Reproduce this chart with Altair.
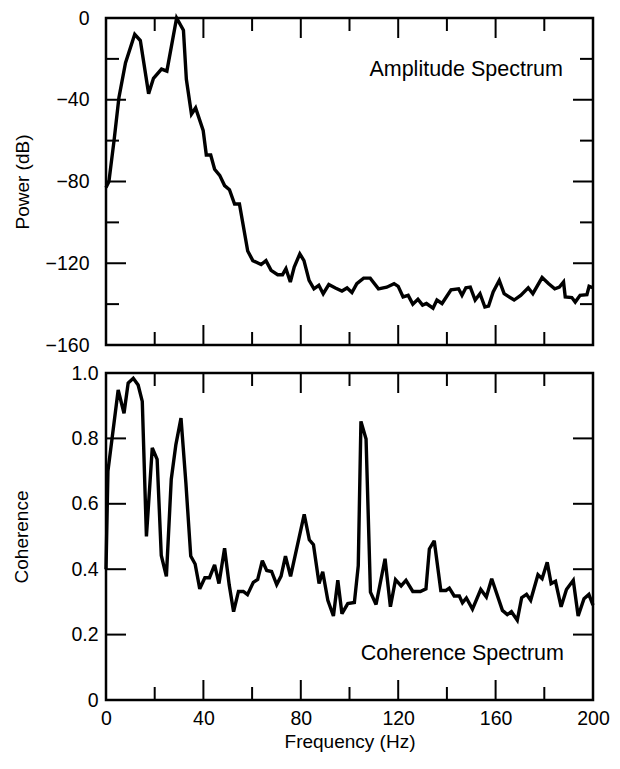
import altair as alt
import pandas as pd

# ---------------- data ----------------
freq_power = [0, 1.2, 3.3, 5.3, 8, 11.8, 14.1, 17.5, 19.5, 22.8, 25, 29, 31.8, 33, 35.1, 36.8,
              39.9, 41.2, 43, 44.6, 46.7, 48.7, 50.7, 52.8, 54.8, 58.2, 60.3, 63.7, 65.7, 67.8,
              70.5, 72.5, 73.9, 75.7, 77.3, 79.6, 81.3, 83.4, 85.4, 87.4, 89.2, 91.5, 94.2, 96.9,
              99, 101, 103, 105.8, 108.5, 111.9, 115.3, 118.3, 120, 122, 124.1, 126, 128.1, 130,
              131.6, 134.3, 135.9, 138, 141.7, 144.8, 146.2, 147.8, 149.6, 151.6, 153.6, 155.6,
              157.1, 159, 161.5, 163.5, 167.6, 170.3, 173.4, 175.3, 179.1, 181.8, 184.3, 186.2,
              187.9, 188.6, 191.3, 192.7, 194.7, 197.5, 198.4, 200]
power_db = [-83, -80, -60, -39, -22, -8, -11, -37, -29.5, -25, -26, 0, -6, -30, -47, -44,
            -55, -67, -67, -74, -77, -82, -84, -91, -91, -114, -118.7, -120.6, -118.7, -123.5,
            -125.6, -125.6, -122.7, -129.2, -121.9, -115.4, -118.7, -128.4, -132.5, -130.8, -134.9, -130.4, -132.1, -133.6,
            -132.1, -134.3, -130, -127.3, -127.3, -132.5, -131.7, -130, -131.3, -136.5, -135.7, -140, -137.6, -140.5,
            -139.7, -142, -138, -139.7, -133, -132.5, -135.7, -132, -131.7, -138, -134.9, -141.4,
            -141, -134, -128.4, -134.9, -138, -135.7, -132, -134.9, -127, -130, -132.5, -131.7,
            -129.2, -136.5, -136.8, -139, -135.7, -135.4, -131.3, -132]

freq_coh = [0, 0.8, 5, 7.4, 9.1, 11.2, 13.2, 14.9, 16.6, 19, 21, 22.7, 24.8, 26.8, 28.7, 30.8,
            32.8, 34.8, 36.6, 38.5, 40.6, 42.5, 44.6, 46.4, 48.7, 50.6, 52.4, 54.4, 56.4, 58.1,
            60.5, 62.3, 64.2, 66, 68, 70.1, 71.9, 73.7, 75.8, 81.4, 83.5, 85.2, 87.5, 89, 91.1,
            93.4, 95.2, 96.9, 99.3, 102, 103.6, 104.7, 106.8, 108.6, 110.9, 114.6, 116.8, 118.9,
            121.2, 123.2, 126, 129.1, 131.4, 132.8, 134.8, 137.5, 139.6, 141, 143, 145.1, 146.4,
            148, 150.5, 153.9, 156.2, 158.4, 162.8, 164.8, 166.5, 168.9, 170.7, 172.7, 174.4,
            177.4, 179.1, 181.2, 182.8, 184.6, 186.9, 189.1, 191.9, 193.9, 196.3, 198.3, 200]
coherence = [0.40, 0.70, 0.948, 0.877, 0.969, 0.984, 0.963, 0.913, 0.50, 0.771, 0.736, 0.442, 0.378, 0.675, 0.781, 0.862,
             0.665, 0.44, 0.416, 0.34, 0.374, 0.374, 0.413, 0.356, 0.464, 0.352, 0.27, 0.332, 0.332, 0.322,
             0.36, 0.369, 0.426, 0.396, 0.393, 0.353, 0.379, 0.44, 0.378, 0.568, 0.49, 0.475, 0.356, 0.392, 0.305,
             0.257, 0.366, 0.264, 0.295, 0.298, 0.411, 0.852, 0.798, 0.33, 0.292, 0.432, 0.285, 0.368,
             0.349, 0.366, 0.332, 0.332, 0.34, 0.462, 0.487, 0.335, 0.335, 0.342, 0.318, 0.318, 0.297,
             0.312, 0.278, 0.338, 0.315, 0.371, 0.274, 0.261, 0.27, 0.244, 0.313, 0.323, 0.305,
             0.383, 0.371, 0.421, 0.356, 0.363, 0.285, 0.338, 0.366, 0.257, 0.31, 0.323, 0.29]

freq_labels = [0, 40, 80, 120, 160, 200]
power_labels = [0, -40, -80, -120, -160]
coh_labels = [0, 0.2, 0.4, 0.6, 0.8, 1.0]
x_major = [40, 80, 120, 160]
x_minor = [20, 60, 100, 140, 180]
power_major = [-40, -80, -120]
power_minor = [-20, -60, -100, -140]
coh_major = [0.2, 0.4, 0.6, 0.8]
panel_titles = ["Amplitude Spectrum", "Coherence Spectrum"]

# ---------------- styling ----------------
W, H = 487, 327
FONT = "Liberation Sans"
LONG, SHORT = 20, 13
TICKW = 2

xscale = alt.Scale(domain=[0, 200], nice=False, zero=False)

def x_ticks(vals, length, x_enc):
    df = pd.DataFrame({"f": vals})
    top = alt.Chart(df).mark_rule(color="black", strokeWidth=TICKW).encode(
        x=x_enc, y=alt.value(0), y2=alt.value(length))
    bot = alt.Chart(df).mark_rule(color="black", strokeWidth=TICKW).encode(
        x=x_enc, y=alt.value(H), y2=alt.value(H - length))
    return [top, bot]

def y_ticks(vals, field, length, y_enc):
    df = pd.DataFrame({field: vals})
    left = alt.Chart(df).mark_rule(color="black", strokeWidth=TICKW).encode(
        y=y_enc, x=alt.value(0), x2=alt.value(length))
    right = alt.Chart(df).mark_rule(color="black", strokeWidth=TICKW).encode(
        y=y_enc, x=alt.value(W), x2=alt.value(W - length))
    return [left, right]

# ---------------- top panel ----------------
x_top = alt.X("f:Q", scale=xscale, axis=None)
y_top = alt.Y("db:Q", scale=alt.Scale(domain=[-160, 0], nice=False, zero=False),
              axis=alt.Axis(values=power_labels, ticks=False, domain=False, grid=False,
                            labelPadding=17, titlePadding=13, title="Power (dB)",
                            labelFlush=False, labelOverlap=False))

power_df = pd.DataFrame({"f": freq_power, "db": power_db})
top_line = alt.Chart(power_df).mark_line(color="black", strokeWidth=3.4, strokeJoin="miter",
                                          strokeMiterLimit=3).encode(x=x_top, y=y_top)
top_text = alt.Chart(pd.DataFrame({"label": [panel_titles[0]]})).mark_text(
    align="right", baseline="middle", font=FONT, fontSize=21.5, color="black").encode(
    x=alt.value(W - 30), y=alt.value(52), text="label:N")

top = alt.layer(
    top_line, top_text,
    *x_ticks(x_major, LONG, x_top), *x_ticks(x_minor, SHORT, x_top),
    *y_ticks(power_major, "db", LONG, y_top), *y_ticks(power_minor, "db", SHORT, y_top),
).properties(width=W, height=H)

# ---------------- bottom panel ----------------
x_bot = alt.X("f:Q", scale=xscale,
              axis=alt.Axis(values=freq_labels, ticks=False, domain=False, grid=False,
                            labelPadding=9, titlePadding=5, title="Frequency (Hz)",
                            labelFlush=False, labelOverlap=False))
y_bot = alt.Y("c:Q", scale=alt.Scale(domain=[0, 1], nice=False, zero=False),
              axis=alt.Axis(values=coh_labels, ticks=False, domain=False, grid=False,
                            labelExpr="datum.value == 0 ? '0' : format(datum.value, '.1f')",
                            labelPadding=8, titlePadding=39, title="Coherence",
                            labelFlush=False, labelOverlap=False))

coh_df = pd.DataFrame({"f": freq_coh, "c": coherence})
bot_line = alt.Chart(coh_df).mark_line(color="black", strokeWidth=3.4, strokeJoin="miter",
                                        strokeMiterLimit=3).encode(x=x_bot, y=y_bot)
bot_text = alt.Chart(pd.DataFrame({"label": [panel_titles[1]]})).mark_text(
    align="right", baseline="middle", font=FONT, fontSize=21.5, color="black").encode(
    x=alt.value(W - 29), y=alt.value(281), text="label:N")

bottom = alt.layer(
    bot_line, bot_text,
    *x_ticks(x_major, LONG, x_bot), *x_ticks(x_minor, SHORT, x_bot),
    *y_ticks(coh_major, "c", LONG, y_bot),
).properties(width=W, height=H)

chart = alt.vconcat(top, bottom, spacing=28, bounds="flush").properties(
    padding={"left": 3, "top": -2, "right": 0, "bottom": 0},
    background="white",
).configure_view(
    stroke="black", strokeWidth=2.5
).configure_axis(
    labelFont=FONT, titleFont=FONT, labelFontSize=19.5, titleFontSize=19,
    titleFontWeight="normal", labelColor="black", titleColor="black",
)

chart.save("out.html", embed_options={"renderer": "svg", "actions": False})
